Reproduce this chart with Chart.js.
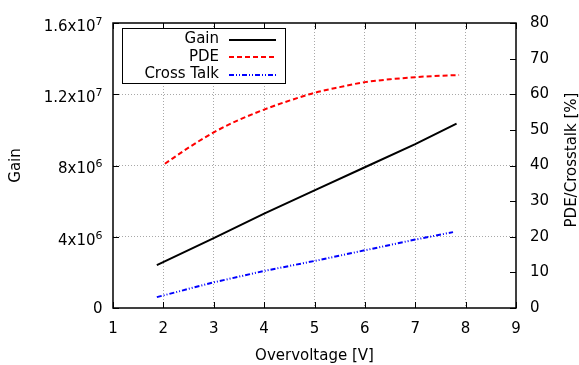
<!DOCTYPE html>
<html>
<head>
<meta charset="utf-8">
<script src="https://cdn.jsdelivr.net/npm/chart.js@4"></script>
<style>
html, body { margin: 0; padding: 0; background: #fff; }
</style>
</head>
<body>
<canvas id="myChart" width="579" height="365"></canvas>
<script>
// values
var gainVolt = [1.87, 3, 4, 5, 6, 7, 7.82];
var gainVals = [2.41e6, 3.92e6, 5.3e6, 6.6e6, 7.9e6, 9.2e6, 1.035e7];
var pdeVolt = [2.03, 2.5, 3, 3.5, 4, 4.5, 5, 5.5, 6, 6.5, 7, 7.5, 7.87];
var pdeVals = [40.5, 45.0, 49.3, 52.8, 55.7, 58.2, 60.4, 62.0, 63.4, 64.2, 64.8, 65.2, 65.4];
var ctVolt = [1.87, 3, 4, 5, 6, 7, 7.75];
var ctVals = [3.05, 7.2, 10.4, 13.2, 16.2, 19.2, 21.3];
// gain tick labels: mantissa part and power of ten
var gainTickBase = ['0', '4x10', '8x10', '1.2x10', '1.6x10'];
var gainTickExp = ['', '6', '6', '7', '7'];

var FONT = 'DejaVu Sans';

function toPoints(xs, ys) {
    var pts = [];
    for (let i = 0; i < xs.length; i++) {
        pts.push({x: xs[i], y: ys[i]});
    }
    return pts;
}

function gridColor(lo, hi) {
    return function (c) {
        if (c.tick.value == lo || c.tick.value == hi) return 'rgba(0,0,0,0)';
        return '#a8a8a8';
    };
}

// frame + inward tick marks like gnuplot
var framePlugin = {
    id: 'frame',
    beforeDatasetsDraw: function (chart) {
        var ctx = chart.ctx, a = chart.chartArea;
        var sx = chart.scales.x, sy = chart.scales.y, sy2 = chart.scales.y2;
        var len = 6;
        ctx.save();
        ctx.strokeStyle = '#000';
        ctx.lineWidth = 1;
        ctx.beginPath();
        sx.ticks.forEach(function (t) {
            var px = Math.round(sx.getPixelForValue(t.value)) + 0.5;
            ctx.moveTo(px, a.bottom); ctx.lineTo(px, a.bottom - len);
            ctx.moveTo(px, a.top); ctx.lineTo(px, a.top + len);
        });
        sy.ticks.forEach(function (t) {
            var py = Math.round(sy.getPixelForValue(t.value)) + 0.5;
            ctx.moveTo(a.left, py); ctx.lineTo(a.left + len, py);
        });
        sy2.ticks.forEach(function (t) {
            var py = Math.round(sy2.getPixelForValue(t.value)) + 0.5;
            ctx.moveTo(a.right, py); ctx.lineTo(a.right - len, py);
        });
        ctx.stroke();
        ctx.lineWidth = 1.5;
        ctx.strokeRect(a.left, a.top, a.right - a.left, a.bottom - a.top);
        ctx.restore();
    },
    afterDraw: function (chart) {
        var ctx = chart.ctx, a = chart.chartArea;
        var sy = chart.scales.y;

        // gain tick labels with raised exponent
        ctx.save();
        ctx.fillStyle = '#000';
        ctx.textBaseline = 'middle';
        ctx.textAlign = 'left';
        sy.ticks.forEach(function (t, i) {
            var py = sy.getPixelForValue(t.value);
            var base = gainTickBase[i], exp = gainTickExp[i];
            var right = a.left - 10.5;
            if (!exp) {
                ctx.font = '15px "' + FONT + '"';
                ctx.fillText(base, right - ctx.measureText(base).width, py + 1);
                return;
            }
            ctx.font = '11px "' + FONT + '"';
            var ew = ctx.measureText(exp).width;
            ctx.fillText(exp, right - ew, py - 1);
            ctx.font = '15px "' + FONT + '"';
            var bw = ctx.measureText(base).width;
            ctx.fillText(base, right - ew - bw, py + 4);
        });
        ctx.restore();

        // right axis title, reading bottom to top
        ctx.save();
        ctx.fillStyle = '#000';
        ctx.font = '15px "' + FONT + '"';
        ctx.textAlign = 'center';
        ctx.textBaseline = 'middle';
        ctx.translate(572, 160);
        ctx.rotate(-Math.PI / 2);
        ctx.fillText('PDE/Crosstalk [%]', 0, 0);
        ctx.restore();

        // legend box
        var bx = 122, by = 28, bw = 163, bh = 55;
        ctx.save();
        ctx.fillStyle = '#fff';
        ctx.fillRect(bx, by, bw, bh);
        ctx.strokeStyle = '#000';
        ctx.lineWidth = 1;
        ctx.strokeRect(bx + 0.5, by + 0.5, bw, bh);
        ctx.font = '15px "' + FONT + '"';
        ctx.textAlign = 'right';
        ctx.textBaseline = 'middle';
        chart.data.datasets.forEach(function (ds, i) {
            var cy = 39.5 + i * 17.5;
            ctx.fillStyle = '#000';
            ctx.fillText(ds.label, 219, cy);
            ctx.strokeStyle = ds.borderColor;
            ctx.lineWidth = 2;
            ctx.setLineDash(ds.borderDash || []);
            ctx.beginPath();
            ctx.moveTo(229, Math.round(cy));
            ctx.lineTo(276, Math.round(cy));
            ctx.stroke();
        });
        ctx.restore();
    }
};

var ctx = document.getElementById('myChart').getContext('2d');
var myChart = new Chart(ctx, {
    type: 'line',
    data: {
        datasets: [{
            label: 'Gain',
            data: toPoints(gainVolt, gainVals),
            yAxisID: 'y',
            borderColor: '#000000',
            borderWidth: 2,
            pointRadius: 0,
            fill: false
        }, {
            label: 'PDE',
            data: toPoints(pdeVolt, pdeVals),
            yAxisID: 'y2',
            borderColor: '#ff0000',
            borderWidth: 2,
            borderDash: [5, 3],
            pointRadius: 0,
            cubicInterpolationMode: 'monotone',
            fill: false
        }, {
            label: 'Cross Talk',
            data: toPoints(ctVolt, ctVals),
            yAxisID: 'y2',
            borderColor: '#0000ff',
            borderWidth: 2,
            borderDash: [5, 2, 1, 2, 1, 2],
            pointRadius: 0,
            fill: false
        }]
    },
    options: {
        responsive: false,
        animation: false,
        layout: {
            padding: {top: 21, left: 0, right: 0, bottom: 0}
        },
        plugins: {
            legend: {display: false},
            tooltip: {enabled: false}
        },
        scales: {
            x: {
                type: 'linear',
                min: 1,
                max: 9,
                afterFit: function (s) { s.height = 57; },
                ticks: {
                    stepSize: 1,
                    color: '#000',
                    padding: 12,
                    maxRotation: 0,
                    font: {family: FONT, size: 15}
                },
                grid: {
                    color: gridColor(1, 9),
                    drawTicks: false,
                    lineWidth: 1
                },
                border: {display: false, dash: [1, 2]},
                title: {
                    display: true,
                    text: 'Overvoltage [V]',
                    color: '#000',
                    padding: {top: 0, bottom: 0},
                    font: {family: FONT, size: 15}
                }
            },
            y: {
                position: 'left',
                min: 0,
                max: 1.6e7,
                afterFit: function (s) { s.width = 113; },
                ticks: {
                    stepSize: 4e6,
                    display: false
                },
                grid: {
                    color: gridColor(0, 1.6e7),
                    drawTicks: false,
                    lineWidth: 1
                },
                border: {display: false, dash: [1, 2]},
                title: {
                    display: true,
                    text: 'Gain',
                    color: '#000',
                    padding: {top: 7, bottom: 0},
                    font: {family: FONT, size: 15}
                }
            },
            y2: {
                position: 'right',
                min: 0,
                max: 80,
                afterFit: function (s) { s.width = 63; },
                ticks: {
                    stepSize: 10,
                    color: '#000',
                    padding: 14,
                    font: {family: FONT, size: 15}
                },
                grid: {
                    drawOnChartArea: false,
                    drawTicks: false
                },
                border: {display: false}
            }
        }
    },
    plugins: [framePlugin]
});
</script>
</body>
</html>
